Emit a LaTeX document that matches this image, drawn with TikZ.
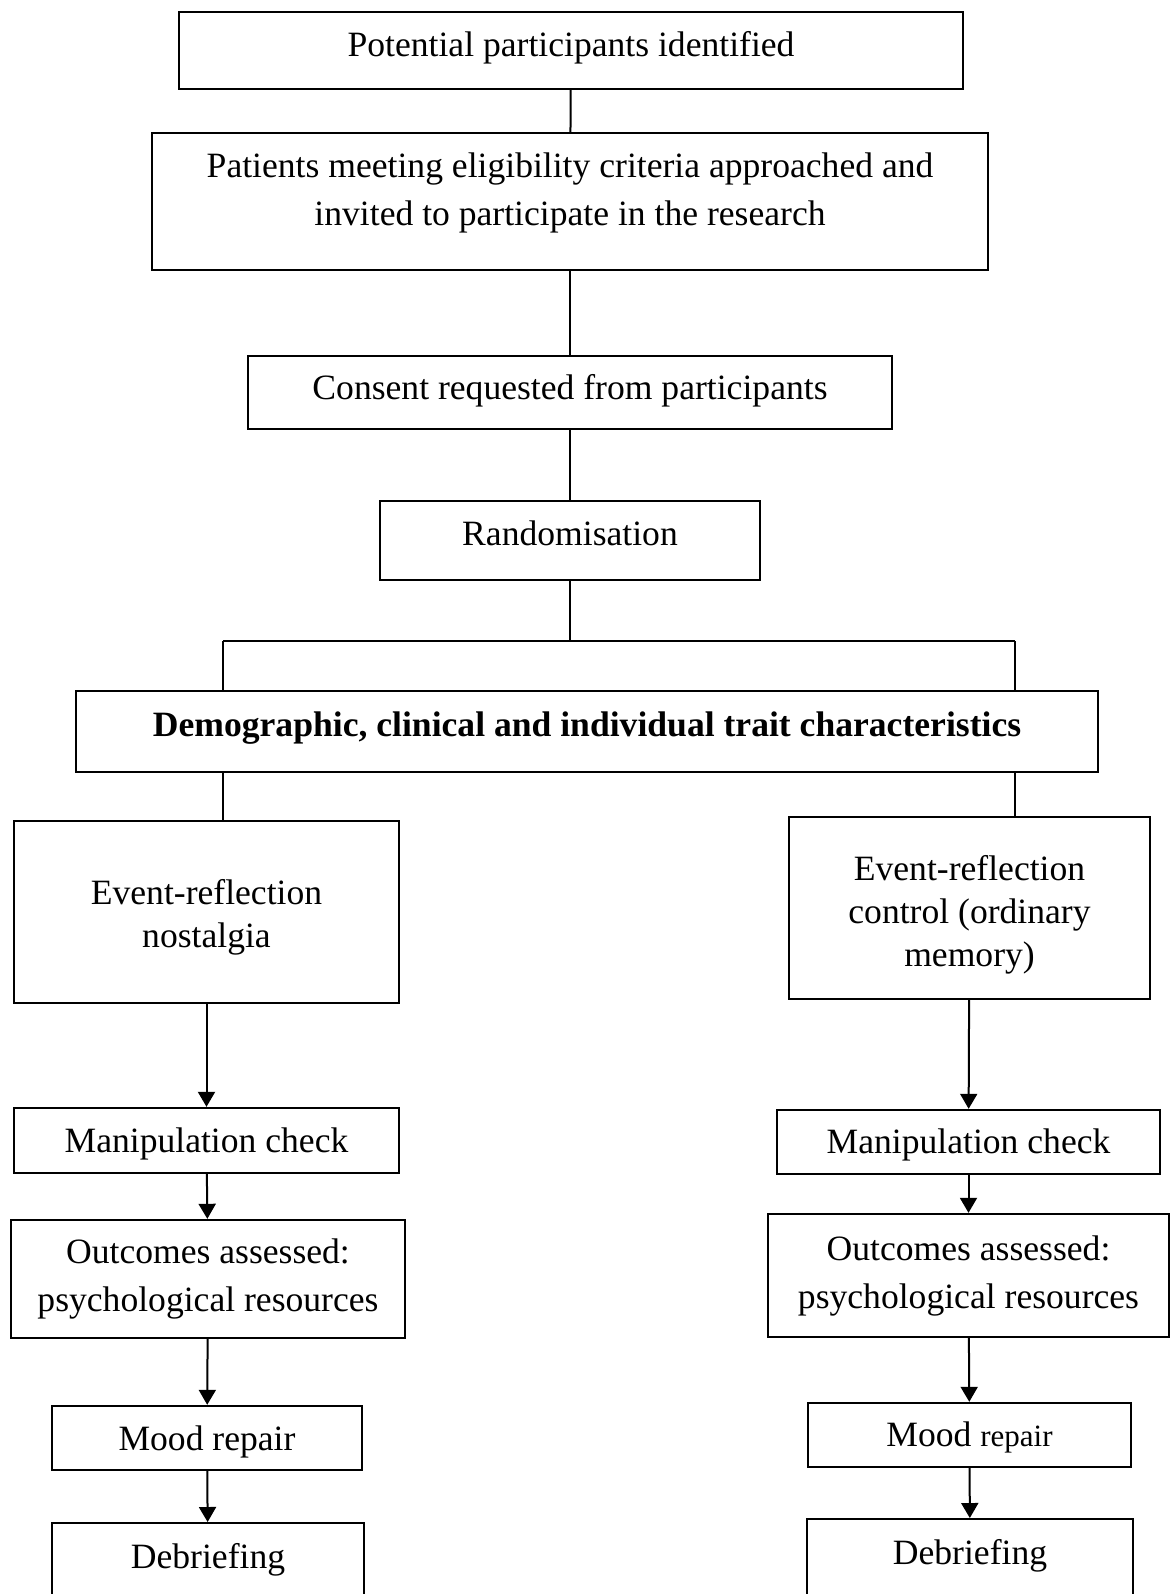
\documentclass[tikz,border=0pt]{standalone}
\usepackage{fontspec}
\setmainfont{Liberation Serif}
\usetikzlibrary{arrows.meta, calc, positioning}
% invisible struts to nudge a box's text up (depth) or down (height)
\newcommand{\liftstrut}[1]{\rule[-#1]{0pt}{#1}}
\newcommand{\dropstrut}[1]{\rule{0pt}{#1}}
\tikzset{
  % boxes of the flow chart
  stepbox/.style={
    rectangle, draw=black, line width=1.2pt, inner sep=2pt,
    align=center, font=\fontsize{17.8}{24}\selectfont
  },
  % tighter lines in the two condition boxes
  condbox/.style={stepbox, font=\fontsize{17.8}{21.5}\selectfont},
  % last boxes run off the bottom of the page
  endbox/.style={
    stepbox, text height=22.5pt, text depth=24pt, inner ysep=0pt
  },
  %
  % connectors
  flow line/.style={draw=black, line width=1pt},
  flow arrow/.style={flow line, -{Triangle[length=7.5pt, width=8.5pt]}},
}

\begin{document}
\begin{tikzpicture}[x=0.5pt, y=-0.5pt]

  \useasboundingbox (0,0) rectangle (1174,1594);

  %% ── Common steps ──────────────────────────────────────────────────────────
  \node[stepbox, minimum width=392pt, minimum height=38.5pt] (potential) at (571, 50.5)
    {Potential participants identified\liftstrut{6.9pt}};
  \node[stepbox, minimum width=418pt, minimum height=68.5pt] (eligible) at (570, 201.5)
    {Patients meeting eligibility criteria approached and\\invited to participate in the research\liftstrut{11.9pt}};
  \node[stepbox, minimum width=322pt, minimum height=36.5pt] (consent) at (570, 392.5)
    {Consent requested from participants\liftstrut{5.9pt}};
  \node[stepbox, minimum width=190pt, minimum height=39.5pt] (random) at (570, 540.5)
    {Randomisation\liftstrut{7pt}};
  \node[stepbox, minimum width=511pt, minimum height=40.5pt,
        font=\fontsize{17.8}{24}\selectfont\bfseries] (demog) at (587, 731.5)
    {Demographic, clinical and individual trait characteristics\liftstrut{6.9pt}};

  %% ── Nostalgia arm (left) ──────────────────────────────────────────────────
  \node[condbox, minimum width=192.5pt, minimum height=91pt] (eventL) at (206.5, 912)
    {\dropstrut{18.2pt}Event-reflection\\nostalgia};
  \node[stepbox, minimum width=192.5pt, minimum height=32.5pt] (manipL) at (206.5, 1140.5)
    {\dropstrut{16.2pt}Manipulation check};
  \node[stepbox, minimum width=197pt, minimum height=59pt] (outcomeL) at (208, 1279)
    {Outcomes assessed:\\psychological resources};
  \node[stepbox, minimum width=155pt, minimum height=32pt] (moodL) at (207, 1438)
    {\dropstrut{16.2pt}Mood repair};
  \node[endbox, minimum width=156pt, anchor=north] (debriefL) at (208, 1522)
    {Debriefing};

  %% ── Control arm (right) ───────────────────────────────────────────────────
  \node[condbox, minimum width=180.5pt, minimum height=91pt] (eventR) at (969.5, 908)
    {\dropstrut{19.2pt}Event-reflection\\control (ordinary\\memory)};
  \node[stepbox, minimum width=191.5pt, minimum height=32pt] (manipR) at (968.5, 1142)
    {\dropstrut{15.2pt}Manipulation check};
  \node[stepbox, minimum width=200.5pt, minimum height=61.5pt] (outcomeR) at (968.5, 1275.5)
    {Outcomes assessed:\\psychological resources};
  \node[stepbox, minimum width=161.5pt, minimum height=32pt] (moodR) at (969.5, 1435)
    {\dropstrut{15.2pt}Mood {\fontsize{15.5}{24}\selectfont repair}};
  \node[endbox, minimum width=163pt, anchor=north] (debriefR) at (970, 1518)
    {Debriefing};

  %% ── Connectors ────────────────────────────────────────────────────────────
  \draw[flow line] (potential) -- (eligible);
  \draw[flow line] (eligible) -- (consent);
  \draw[flow line] (consent) -- (random);

  % split after randomisation, passing behind the characteristics box
  \coordinate (splitL) at (223, 641);
  \coordinate (splitR) at (1015, 641);
  \draw[flow line] (random.south) -- (random.south |- splitL);
  \draw[flow line] (splitL) -- (splitR);
  \draw[flow line] (splitL) -- (splitL |- demog.north);
  \draw[flow line] (splitR) -- (splitR |- demog.north);
  \draw[flow line] (demog.south -| splitL) -- (splitL |- eventL.north);
  \draw[flow line] (demog.south -| splitR) -- (splitR |- eventR.north);

  % arms
  \draw[flow arrow] (eventL) -- (manipL);
  \draw[flow arrow] (manipL) -- (outcomeL);
  \draw[flow arrow] (outcomeL) -- (moodL);
  \draw[flow arrow] (moodL) -- (debriefL);

  \draw[flow arrow] (eventR) -- (manipR);
  \draw[flow arrow] (manipR) -- (outcomeR);
  \draw[flow arrow] (outcomeR) -- (moodR);
  \draw[flow arrow] (moodR) -- (debriefR);

\end{tikzpicture}
\end{document}
